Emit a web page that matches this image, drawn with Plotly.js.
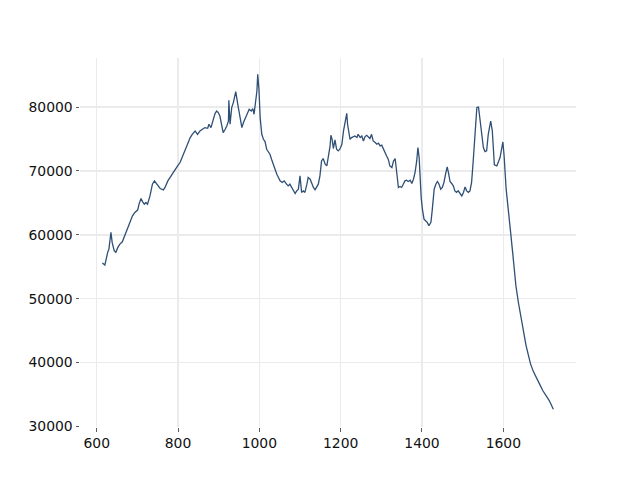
<!DOCTYPE html>
<html>
<head>
<meta charset="utf-8">
<script src="https://cdn.plot.ly/plotly-3.0.1.min.js"></script>
<style>html,body{margin:0;padding:0;background:#fff;}#chart{width:640px;height:480px;}</style>
</head>
<body>
<div id="chart"></div>
<script>
// Wavenumber (x) and intensity (y)
const wavenumber = [
  614,620,627,630,635,638,643,647,652,657,663,670,676,682,688,694,701,704,709,713,
  717,721,725,731,737,742,748,756,764,768,775,780,787,793,799,805,811,817,824,830,
  835,842,848,854,860,866,
  873,876,881,887,891,895,899,903,907,911,916,920,924,925,928,932,936,942,947,951,
  957,961,967,971,975,980,984,987,989,994,996,999,1002,1006,1010,1014,1018,1022,1026,1030,
  1034,1039,1043,1047,1051,1056,1061,1067,1071,1075,1080,1084,1088,1092,1096,1100,1104,1108,
  1112,1117,1120,1125,1129,1133,1137,1141,1145,1149,1153,1157,1162,1166,1170,1174,1176,1179,1182,1186,
  1190,1194,1198,1203,1207,1211,1215,1217,1221,1223,1227,1231,1235,1240,1243,1248,1252,1256,1260,1264,
  1268,1272,1276,1280,1285,1289,1293,1297,1301,1305,1309,1313,1317,1321,1326,1330,1334,1338,1342,1346,
  1350,1354,1358,
  1362,1366,1371,1375,1379,1383,1387,1390,1393,1395,1398,1401,1405,1409,1413,1417,1422,1425,1430,1434,
  1438,1442,1446,1450,1454,1458,1462,1465,1469,1473,1477,1481,1485,1489,1494,1498,1502,1506,1510,1514,
  1518,1522,1526,1530,1535,1539,1543,1547,1551,1555,1559,1563,1569,1573,1578,1584,1592,1599,
  1602,1607,1612,1618,1623,1627,1631,1637,1643,1649,1656,1662,1667,1674,1680,1689,1697,1705,1713,1723
];
const intensity = [
  55580,55270,57250,57770,60380,58810,57500,57250,58030,58550,58910,60110,61160,62190,62970,63500,63910,64800,65690,65160,
  64800,65060,64800,66090,67920,68440,67920,67250,67030,67410,68440,68970,69480,70270,70780,71310,72250,73280,74170,75220,
  75730,76250,75730,76250,76520,76780,
  76670,77300,76780,78340,78970,79380,79130,78590,77300,76000,76520,77030,77810,81050,77300,79910,80690,82410,80420,78860,
  76780,77560,78340,78860,79640,79380,79750,78860,79910,82500,85110,82770,78340,75730,74950,74590,73390,73030,72610,71830,
  71050,70270,69480,68970,68440,68190,68440,67920,67660,67920,67300,66880,66470,66880,67140,69220,66630,66880,
  66630,67920,68970,68700,67920,67410,67030,67560,67920,69220,71560,71940,71050,70780,72340,73910,75580,74950,73500,74840,
  73390,73130,73390,74170,76250,77810,79020,77300,75470,74950,75220,75380,75470,75220,75730,75220,75470,74690,75380,75580,
  75380,75060,75730,74690,74440,74170,74330,73910,74020,73390,72880,72340,71830,70780,70530,71560,71940,69480,67410,67560,
  67410,67920,68440,
  68550,68340,68550,68030,68700,69750,71560,73660,72090,68440,65840,64020,62450,62190,61940,61410,61940,63750,67140,67920,
  68340,67920,67140,67410,68190,69480,70630,69750,68340,68030,67660,66880,66630,66880,66360,66090,66630,67500,66880,66630,
  66880,68190,71560,75730,79910,80000,78080,75730,73660,73030,73130,75730,77810,76250,70940,70780,72090,74530,
  72340,67140,63500,60380,57250,54130,52030,49440,47090,44750,42660,41090,39800,38590,37720,36670,35630,34840,34060,32700
];
const xTickVals = [600, 800, 1000, 1200, 1400, 1600];
const yTickVals = [30000, 40000, 50000, 60000, 70000, 80000];

const trace = {
  x: wavenumber,
  y: intensity,
  type: 'scatter',
  mode: 'lines',
  line: {color: '#2f4f75', width: 1.3},
  hoverinfo: 'skip'
};

const axisCommon = {
  showline: false,
  zeroline: false,
  showgrid: true,
  gridcolor: '#ebebeb',
  gridwidth: 1.5,
  ticks: 'outside',
  ticklen: 3.5,
  tickwidth: 0.8,
  tickcolor: '#333',
  tickfont: {family: 'DejaVu Sans', size: 13.9, color: '#111'}
};

const layout = {
  width: 640,
  height: 480,
  margin: {l: 80, r: 64, t: 57.6, b: 52.8, pad: 0},
  paper_bgcolor: '#fff',
  plot_bgcolor: '#fff',
  showlegend: false,
  xaxis: Object.assign({}, axisCommon, {
    range: [558.9, 1778.8],
    tickmode: 'array',
    tickvals: xTickVals,
    ticktext: xTickVals.map(String)
  }),
  yaxis: Object.assign({}, axisCommon, {
    range: [29920, 87670],
    tickmode: 'array',
    tickvals: yTickVals,
    ticktext: yTickVals.map(String)
  })
};

Plotly.newPlot('chart', [trace], layout, {staticPlot: true, displayModeBar: false});
</script>
</body>
</html>
